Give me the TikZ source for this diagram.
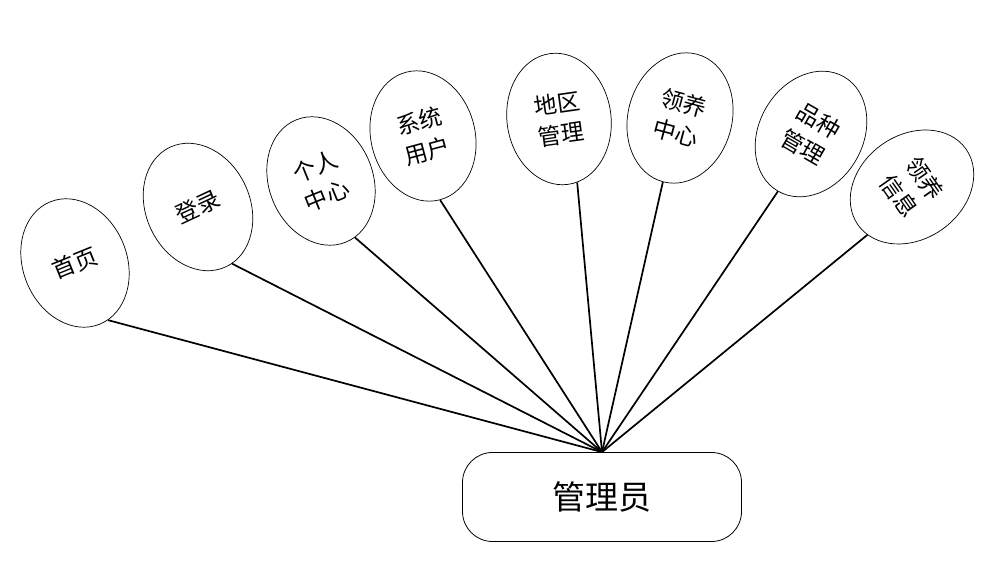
\documentclass[tikz,border=0pt]{standalone}
\usepackage{fontspec}
\newfontfamily\cjk{Noto Sans CJK SC}
\usepackage{tikz}
\usetikzlibrary{shapes.geometric}

\begin{document}
\begin{tikzpicture}[x=1pt, y=1pt, every node/.style={font=\cjk\fontsize{23}{31}\selectfont},
	item/.style={ellipse, draw, line width=0.7pt, inner sep=0pt, minimum width=104, minimum height=132, align=center},
	link/.style={line width=1.7pt}]
	\useasboundingbox (0,0) rectangle (1003,569);
	\node[draw, line width=0.8pt, rounded corners=30, minimum width=279, minimum height=89, inner sep=0pt, font=\cjk\fontsize{33}{38}\selectfont] (admin) at (602,72) {管理员};
	\node[item, rotate=22] (shouye) at (75,306) {首页};
	\node[item, rotate=25] (denglu) at (198,362) {登录};
	\node[item, rotate=22] (geren) at (321,388) {个人\\中心};
	\node[item, rotate=15] (yonghu) at (423,433) {系统\\用户};
	\node[item, rotate=8] (diqu) at (559,450) {地区\\管理};
	\node[item, rotate=-15] (lingyang) at (680,451) {领养\\中心};
	\node[item, rotate=-30] (pinzhong) at (811,435) {品种\\管理};
	\node[item, rotate=-55] (xinxi) at (912,382) {领养\\信息};
	\draw[link] (admin.north) -- (shouye.-82);
	\draw[link] (admin.north) -- (denglu.-84);
	\draw[link] (admin.north) -- (geren.-81);
	\draw[link] (admin.north) -- (yonghu.south);
	\draw[link] (admin.north) -- (diqu.-82);
	\draw[link] (admin.north) -- (lingyang.south);
	\draw[link] (admin.north) -- (pinzhong.south);
	\draw[link] (admin.north) -- (xinxi.-78);
\end{tikzpicture}
\end{document}
